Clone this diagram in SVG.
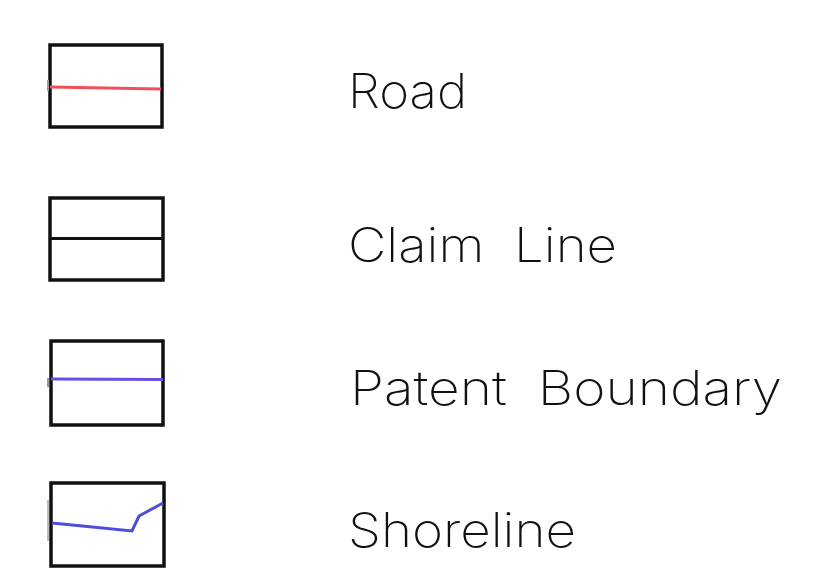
<svg xmlns="http://www.w3.org/2000/svg" width="820" height="588" viewBox="0 0 820 588">
<style>
.box{fill:#fff;stroke:#111;stroke-width:3.5}
.lbl{font-family:Inter,"Liberation Sans",sans-serif;font-weight:200;font-size:48px;fill:#111;white-space:pre}
.tick{stroke:#999;stroke-width:2}
.ln{fill:none;stroke-width:3}
</style>
<rect width="820" height="588" fill="#fff"/>
<g id="road">
<rect class="box" x="50" y="45" width="112" height="82"/>
<line class="tick" x1="48" y1="80" x2="48" y2="91"/>
<line class="ln" x1="50" y1="87" x2="161" y2="89" stroke="#f0505e"/>
<text class="lbl" x="348" y="108" textLength="119" lengthAdjust="spacingAndGlyphs">Road</text>
</g>
<g id="claim-line">
<rect class="box" x="50" y="198" width="113" height="82"/>
<line class="ln" x1="50" y1="238.5" x2="163" y2="238.5" stroke="#111"/>
<text class="lbl" x="348" y="262" textLength="269" lengthAdjust="spacingAndGlyphs">Claim  Line</text>
</g>
<g id="patent-boundary">
<rect class="box" x="51" y="341" width="112" height="84"/>
<line class="tick" x1="48" y1="378" x2="48" y2="387"/>
<line class="ln" x1="51" y1="379" x2="163" y2="379.5" stroke="#6650e0"/>
<text class="lbl" x="350" y="405" textLength="432" lengthAdjust="spacingAndGlyphs">Patent  Boundary</text>
</g>
<g id="shoreline">
<rect class="box" x="51" y="483" width="113" height="83"/>
<line x1="48" y1="500" x2="48" y2="541" stroke="#bbb" stroke-width="2"/>
<polyline class="ln" points="52,523 132,531 139,516 163,503" stroke="#4d4de0"/>
<text class="lbl" x="348" y="547" textLength="228" lengthAdjust="spacingAndGlyphs">Shoreline</text>
</g>
<g id="connectors"></g>
</svg>
